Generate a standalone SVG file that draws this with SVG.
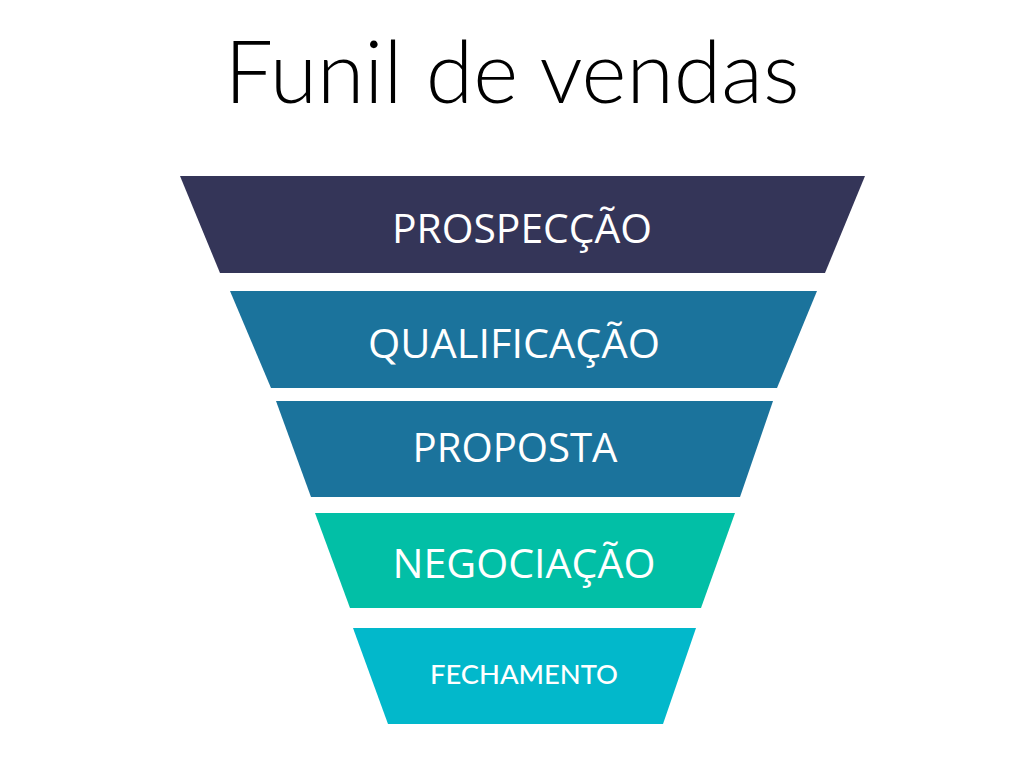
<svg xmlns="http://www.w3.org/2000/svg" width="1024" height="768" viewBox="0 0 1024 768">
<style>
.lbl{font-family:"Open Sans","Noto Sans","Liberation Sans",sans-serif;fill:#ffffff;text-anchor:middle;font-size:40px}
.small{font-family:"Lato","Inter","Liberation Sans",sans-serif;fill:#ffffff;text-anchor:middle;font-size:27px;font-weight:500}
.title{font-family:"Lato","Inter","Liberation Sans",sans-serif;fill:#000000;text-anchor:middle;font-size:86px;font-weight:300}
</style>
<rect width="1024" height="768" fill="#ffffff"/>
<text class="title" x="512" y="103" textLength="575" lengthAdjust="spacingAndGlyphs">Funil de vendas</text>
<g id="prospeccao">
<polygon points="180,176 865,176 825,273 220,273" fill="#343558"/>
<text class="lbl" x="522" y="243" textLength="260" lengthAdjust="spacingAndGlyphs">PROSPECÇÃO</text>
</g>
<g id="qualificacao">
<polygon points="230,291 817,291 777,388 271,388" fill="#1b739c"/>
<text class="lbl" x="514" y="358" textLength="292" lengthAdjust="spacingAndGlyphs">QUALIFICAÇÃO</text>
</g>
<g id="proposta">
<polygon points="276,401 773,401 740,497 311,497" fill="#1b739c"/>
<text class="lbl" x="515" y="462" textLength="205" lengthAdjust="spacingAndGlyphs">PROPOSTA</text>
</g>
<g id="negociacao">
<polygon points="315,513 735,513 701,608 350,608" fill="#02bfa6"/>
<text class="lbl" x="524" y="578" textLength="263" lengthAdjust="spacingAndGlyphs">NEGOCIAÇÃO</text>
</g>
<g id="fechamento">
<polygon points="353,628 696,628 663,724 388,724" fill="#02b8cb"/>
<text class="small" x="524" y="684" textLength="188" lengthAdjust="spacingAndGlyphs">FECHAMENTO</text>
</g>
<g id="connectors"></g>
</svg>
